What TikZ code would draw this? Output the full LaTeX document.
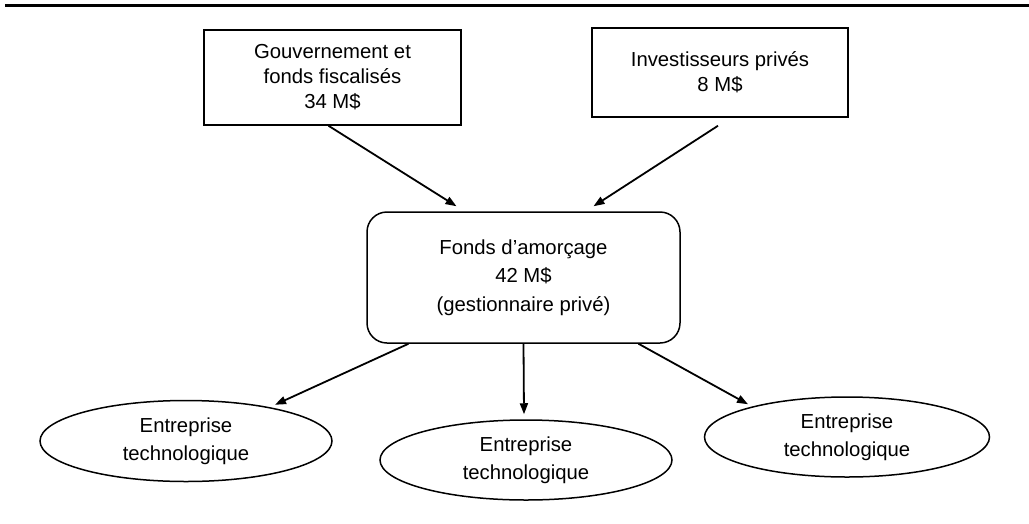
\documentclass[tikz,border=0pt]{standalone}
\usepackage{fontspec}
\setmainfont{Liberation Sans}
\usetikzlibrary{arrows.meta,shapes.geometric}

\begin{document}
\begin{tikzpicture}[
    x=1pt,y=-1pt,
    font=\fontsize{20.3}{25}\selectfont,
    source/.style={draw,line width=1.5pt,align=center,inner sep=0pt,
                   minimum width=257pt,minimum height=95pt},
    fund/.style={draw,line width=1.5pt,rounded corners=20pt,align=center,inner sep=0pt,
                 minimum width=313pt,minimum height=131pt,font=\fontsize{20.3}{28.5}\selectfont},
    firm/.style={draw,ellipse,line width=1.5pt,align=center,inner sep=0pt,
                 minimum width=292pt,minimum height=81pt,font=\fontsize{20.3}{28.5}\selectfont},
    ar/.style={-{Triangle[length=11pt,width=8pt]},line width=1.8pt}
  ]
    \useasboundingbox (0,0) rectangle (1029,523);
    \draw[line width=3.5pt] (5,5.7) -- (1029,5.7);

    \node[source] (gov)   at (332.5,77.5) {Gouvernement et\\fonds fiscalisés\\34 M\$};
    \node[source,minimum width=256pt,minimum height=89pt] (inv) at (720,72.5)
          {Investisseurs privés\\8 M\$};
    \node[fund]   (fonds) at (523.5,277.5) {Fonds d’amorçage\\42 M\$\\(gestionnaire privé)};

    \node[firm] (firmA) at (186,441) {Entreprise\\technologique};
    \node[firm,minimum height=80pt] (firmB) at (526,460) {Entreprise\\technologique};
    \node[firm,minimum width=285pt,minimum height=80pt] (firmC) at (847,437) {Entreprise\\technologique};

    \draw[ar] ([xshift=-4pt]gov.south) -- ([xshift=-67pt,yshift=5pt]fonds.north);
    \draw[ar] ([xshift=-2pt,yshift=-8pt]inv.south) -- ([xshift=70pt,yshift=5pt]fonds.north);

    \draw[ar] ([xshift=-115pt]fonds.south) -- ([xshift=89pt,yshift=-5pt]firmA.north);
    \draw[ar] (fonds.south) -- ([xshift=-2pt,yshift=5pt]firmB.north);
    \draw[ar] ([xshift=115pt]fonds.south) -- ([xshift=-99pt,yshift=-8pt]firmC.north);
  \end{tikzpicture}
\end{document}
